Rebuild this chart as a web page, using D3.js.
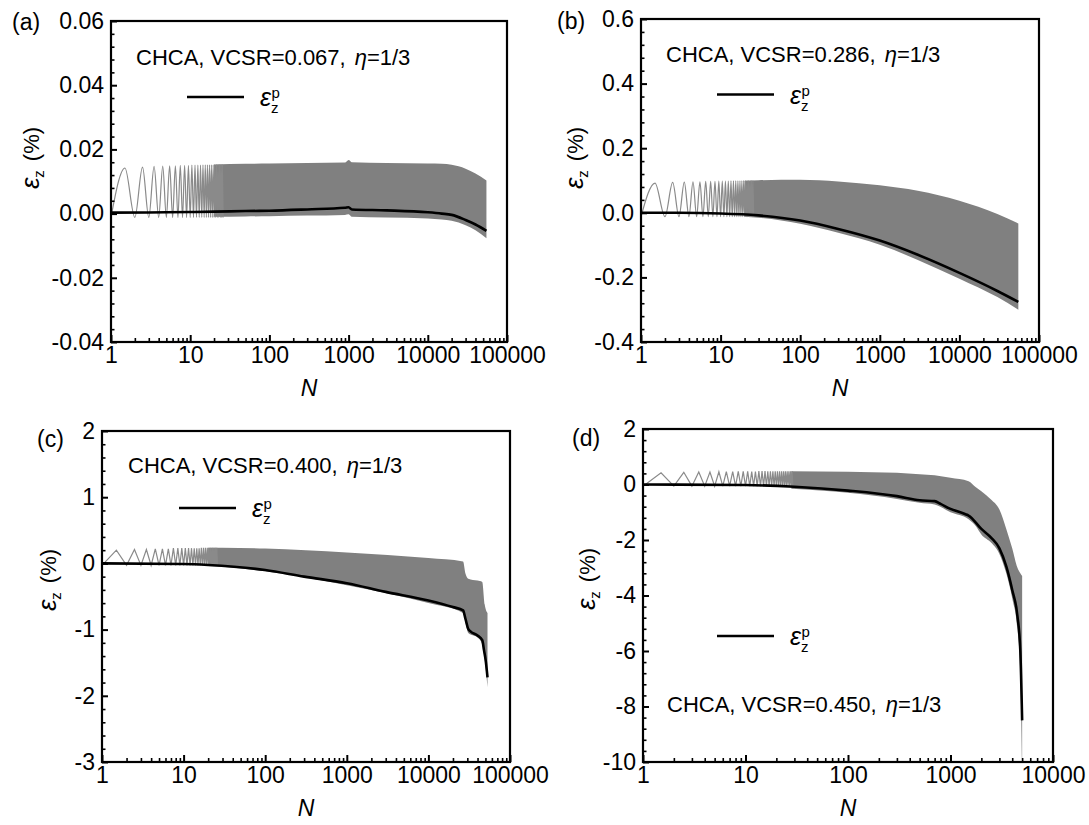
<!DOCTYPE html>
<html>
<head>
<meta charset="utf-8">
<script src="https://cdn.jsdelivr.net/npm/d3@7"></script>
<style>
  body { margin: 0; background: #fff; }
  svg text { font-family: "Liberation Sans", Arial, sans-serif; fill: #000; }
</style>
</head>
<body>
<svg id="chart" width="1089" height="825"></svg>
<script>
// ---- panel (a) VCSR=0.067 ----
var nBandA = [20, 50, 100, 300, 900, 1000, 1100, 3000, 10000, 15000, 20000, 30000, 40000, 55000];
var upperA = [0.0153, 0.0155, 0.0156, 0.0158, 0.0159, 0.0167, 0.0160, 0.0158, 0.0156, 0.0155, 0.0152, 0.0140, 0.0125, 0.0103];
var lowerA = [-0.0010, -0.0009, -0.0008, -0.0006, -0.0004, -0.0002, -0.0010, -0.0012, -0.0015, -0.0018, -0.0022, -0.0036, -0.0052, -0.0077];
var nPlA = [1, 5, 10, 20, 50, 100, 300, 900, 1000, 1100, 3000, 10000, 15000, 20000, 30000, 40000, 55000];
var plA = [0.0003, 0.0004, 0.0005, 0.0006, 0.0008, 0.0009, 0.0013, 0.0018, 0.0020, 0.0013, 0.0010, 0.0004, 0.0000, -0.0004, -0.0020, -0.0034, -0.0054];
var peaksA = [0.0142, 0.0145, 0.0147, 0.0148, 0.0149, 0.0149, 0.0150, 0.0150, 0.0150, 0.0151, 0.0151, 0.0151, 0.0151, 0.0152, 0.0152, 0.0152, 0.0152, 0.0152, 0.0152, 0.0153, 0.0153, 0.0153, 0.0153, 0.0153, 0.0153];
var troughA = -0.0012;
var yTicksA = [-0.04, -0.02, 0, 0.02, 0.04, 0.06];

// ---- panel (b) VCSR=0.286 ----
var nBandB = [20, 30, 100, 300, 1000, 3000, 10000, 30000, 55000];
var upperB = [0.099, 0.101, 0.102, 0.097, 0.085, 0.068, 0.037, -0.004, -0.033];
var lowerB = [-0.012, -0.015, -0.034, -0.062, -0.099, -0.146, -0.204, -0.261, -0.300];
var nPlB = [1, 3, 10, 30, 100, 300, 1000, 3000, 10000, 30000, 55000];
var plB = [0, 0, -0.002, -0.008, -0.024, -0.050, -0.086, -0.130, -0.186, -0.242, -0.276];
var peaksB = [0.092, 0.094, 0.095, 0.096, 0.096, 0.097, 0.097, 0.097, 0.098, 0.098, 0.098, 0.098, 0.099, 0.099, 0.099, 0.099, 0.099, 0.099, 0.100, 0.100, 0.100, 0.100, 0.100, 0.100, 0.100];
var troughB = -0.012;
var yTicksB = [-0.4, -0.2, 0, 0.2, 0.4, 0.6];

// ---- panel (c) VCSR=0.400 ----
var nBandC = [20, 30, 100, 1000, 10000, 26600, 28500, 30800, 40000, 45700, 49000, 53000];
var upperC = [0.235, 0.237, 0.226, 0.166, 0.080, 0.030, -0.156, -0.230, -0.260, -0.280, -0.620, -0.750];
var lowerC = [-0.04, -0.05, -0.12, -0.33, -0.60, -0.75, -0.90, -1.05, -1.12, -1.22, -1.45, -1.87];
var nPlC = [1, 10, 20, 100, 300, 1000, 3000, 10000, 20000, 26600, 28500, 30800, 33000, 40000, 45700, 48000, 50300, 53000];
var plC = [0, -0.01, -0.025, -0.10, -0.20, -0.30, -0.43, -0.56, -0.66, -0.71, -0.84, -0.99, -1.03, -1.09, -1.16, -1.31, -1.46, -1.72];
var peaksC = [0.20, 0.21, 0.21, 0.22, 0.22, 0.22, 0.23, 0.23, 0.23, 0.23, 0.23, 0.23, 0.23, 0.23, 0.23, 0.235, 0.235, 0.235, 0.235, 0.235, 0.235, 0.235, 0.235, 0.235, 0.235];
var troughC = -0.03;
var yTicksC = [-3, -2, -1, 0, 1, 2];

// ---- panel (d) VCSR=0.450 ----
var nBandD = [28, 100, 300, 500, 700, 1000, 1500, 1770, 2000, 2500, 3000, 3500, 4000, 4500, 4800, 5000];
var upperD = [0.48, 0.46, 0.42, 0.37, 0.33, 0.24, 0.12, -0.10, -0.24, -0.55, -0.90, -1.60, -2.30, -3.00, -3.20, -3.30];
var lowerD = [-0.15, -0.30, -0.52, -0.66, -0.72, -1.00, -1.25, -1.50, -1.80, -2.10, -2.50, -3.20, -4.10, -5.20, -6.80, -10.5];
var nPlD = [1, 10, 30, 100, 300, 500, 700, 800, 1000, 1400, 1500, 2000, 2500, 3000, 3500, 4000, 4500, 4800, 5000];
var plD = [0, -0.02, -0.08, -0.22, -0.42, -0.57, -0.60, -0.70, -0.88, -1.07, -1.12, -1.60, -1.92, -2.30, -2.95, -3.80, -4.75, -6.00, -8.50];
var peaksD = [0.42, 0.44, 0.45, 0.45, 0.46, 0.46, 0.46, 0.47, 0.47, 0.47, 0.47, 0.47, 0.48, 0.48, 0.48, 0.48, 0.48, 0.48, 0.48, 0.48, 0.48, 0.48, 0.48, 0.48, 0.48, 0.48, 0.48, 0.48];
var troughD = -0.06;
var yTicksD = [-10, -8, -6, -4, -2, 0, 2];

var svg = d3.select('#chart');
var fontStack = '"Liberation Sans", Arial, sans-serif';

function fixMinus(s) { return s.replace('\u2212', '-'); }

function drawPanel(p) {
  var x = d3.scaleLog().domain(p.xDomain).range([p.left, p.right]);
  var y = d3.scaleLinear().domain(p.yDomain).range([p.bottom, p.top]);
  var g = svg.append('g');

  g.append('clipPath').attr('id', 'clip-' + p.id)
    .append('rect')
      .attr('x', p.left).attr('y', p.top)
      .attr('width', p.right - p.left).attr('height', p.bottom - p.top);

  var plot = g.append('g').attr('clip-path', 'url(#clip-' + p.id + ')');

  // dense part of the cyclic strain: filled between envelopes
  var band = p.nBand.map(function(n, i) { return { n: n, hi: p.upper[i], lo: p.lower[i] }; });
  plot.append('path')
    .datum(band)
    .attr('fill', '#808080')
    .attr('d', d3.area()
      .curve(d3.curveMonotoneX)
      .x(function(d) { return x(d.n); })
      .y0(function(d) { return y(d.lo); })
      .y1(function(d) { return y(d.hi); }));

  // early single cycles
  var cyc = [];
  p.peaks.forEach(function(pk, i) {
    cyc.push([i + 1, p.trough]);
    cyc.push([i + 1.5, pk]);
  });
  cyc.push([p.peaks.length + 1, p.trough]);
  plot.append('path')
    .datum(cyc)
    .attr('fill', 'none')
    .attr('stroke', '#8a8a8a')
    .attr('stroke-width', 1.2)
    .attr('d', d3.line()
      .curve(p.sharp ? d3.curveLinear : d3.curveMonotoneX)
      .x(function(d) { return x(d[0]); })
      .y(function(d) { return y(d[1]); }));

  // plastic strain
  plot.append('path')
    .datum(p.nPl.map(function(n, i) { return [n, p.pl[i]]; }))
    .attr('fill', 'none')
    .attr('stroke', '#000')
    .attr('stroke-width', 2.6)
    .attr('d', d3.line()
      .curve(d3.curveMonotoneX)
      .x(function(d) { return x(d[0]); })
      .y(function(d) { return y(d[1]); }));

  // y axis (ticks point inward)
  var fmt = d3.format(p.yFormat);
  var yMinor = [];
  for (var i = 0; i < p.yTicks.length - 1; i++) {
    var step = (p.yTicks[i + 1] - p.yTicks[i]) / 5;
    for (var k = 1; k < 5; k++) yMinor.push(p.yTicks[i] + k * step);
  }
  g.append('g')
    .attr('transform', 'translate(' + p.left + ',0)')
    .call(d3.axisLeft(y).tickValues(yMinor).tickSizeInner(-3.5).tickSizeOuter(0).tickFormat(''))
    .call(function(s) { s.select('.domain').remove(); s.selectAll('line').attr('stroke-width', 1.6); });
  g.append('g')
    .attr('transform', 'translate(' + p.left + ',0)')
    .call(d3.axisLeft(y).tickValues(p.yTicks).tickSizeInner(-6).tickSizeOuter(0).tickPadding(7)
      .tickFormat(function(d) { return fixMinus(fmt(d)); }))
    .call(function(s) {
      s.select('.domain').remove();
      s.selectAll('line').attr('stroke-width', 2);
      s.selectAll('text').attr('font-size', 23).attr('font-family', fontStack);
    });

  // x axis, log decades
  var decades = [], xMinor = [];
  for (var dd = p.xDomain[0]; dd <= p.xDomain[1]; dd *= 10) {
    decades.push(dd);
    for (var m = 2; m < 10; m++) if (dd * m < p.xDomain[1]) xMinor.push(dd * m);
  }
  g.append('g')
    .attr('transform', 'translate(0,' + p.bottom + ')')
    .call(d3.axisBottom(x).tickValues(xMinor).tickSizeInner(-4).tickSizeOuter(0).tickFormat(''))
    .call(function(s) { s.select('.domain').remove(); s.selectAll('line').attr('stroke-width', 1.6); });
  g.append('g')
    .attr('transform', 'translate(0,' + p.bottom + ')')
    .call(d3.axisBottom(x).tickValues(decades).tickSizeInner(-7).tickSizeOuter(0).tickPadding(5)
      .tickFormat(d3.format('d')))
    .call(function(s) {
      s.select('.domain').remove();
      s.selectAll('line').attr('stroke-width', 2);
      s.selectAll('text').attr('font-size', 23).attr('font-family', fontStack);
    });

  // frame
  g.append('rect')
    .attr('x', p.left).attr('y', p.top)
    .attr('width', p.right - p.left).attr('height', p.bottom - p.top)
    .attr('fill', 'none').attr('stroke', '#000').attr('stroke-width', 2.2);

  // axis titles
  g.append('text')
    .attr('x', (p.left + p.right) / 2).attr('y', p.bottom + 54)
    .attr('text-anchor', 'middle').attr('font-size', 23).attr('font-style', 'italic')
    .text('N');

  var yt = g.append('text')
    .attr('transform', 'translate(' + p.yTitleX + ',' + p.yTitleY + ') rotate(-90)')
    .attr('text-anchor', 'middle');
  yt.append('tspan').attr('font-size', 26).attr('font-style', 'italic').text('\u03b5');
  yt.append('tspan').attr('font-size', 15).attr('dy', 5).text('z');
  yt.append('tspan').attr('font-size', 22).attr('dx', 9).attr('dy', -5).text('(%)');

  // panel letter
  g.append('text').attr('x', p.labelX).attr('y', p.labelY).attr('font-size', 23).text(p.label);

  // annotation
  var ann = g.append('text').attr('x', p.annX).attr('y', p.annY).attr('font-size', 22);
  ann.append('tspan').text(p.annText + ',');
  ann.append('tspan').attr('dx', 9).attr('font-style', 'italic').text('\u03b7');
  ann.append('tspan').text('=1/3');

  // legend
  g.append('line')
    .attr('x1', p.legX).attr('x2', p.legX + 57)
    .attr('y1', p.legY).attr('y2', p.legY)
    .attr('stroke', '#000').attr('stroke-width', 2.6);
  var lt = g.append('text').attr('x', p.legX + 73).attr('y', p.legY + 9);
  lt.append('tspan').attr('font-size', 25).attr('font-style', 'italic').text('\u03b5');
  lt.append('tspan').attr('font-size', 15).attr('dy', 7).text('z');
  lt.append('tspan').attr('font-size', 15).attr('dx', -7).attr('dy', -15).text('p');
}

drawPanel({
  id: 'a', label: '(a)', labelX: 12, labelY: 30,
  left: 111, right: 507, top: 21, bottom: 342,
  xDomain: [1, 100000], yDomain: [-0.04, 0.06], yTicks: yTicksA, yFormat: '.2f',
  nBand: nBandA, upper: upperA, lower: lowerA, nPl: nPlA, pl: plA, peaks: peaksA, trough: troughA,
  sharp: false, yTitleX: 39, yTitleY: 158,
  annText: 'CHCA, VCSR=0.067', annX: 136, annY: 65,
  legX: 187, legY: 97
});
drawPanel({
  id: 'b', label: '(b)', labelX: 557, labelY: 29,
  left: 641, right: 1039, top: 19, bottom: 342,
  xDomain: [1, 100000], yDomain: [-0.4, 0.6], yTicks: yTicksB, yFormat: '.1f',
  nBand: nBandB, upper: upperB, lower: lowerB, nPl: nPlB, pl: plB, peaks: peaksB, trough: troughB,
  sharp: false, yTitleX: 583, yTitleY: 158,
  annText: 'CHCA, VCSR=0.286', annX: 666, annY: 62,
  legX: 717, legY: 94.5
});
drawPanel({
  id: 'c', label: '(c)', labelX: 37, labelY: 447,
  left: 102, right: 510, top: 431, bottom: 762,
  xDomain: [1, 100000], yDomain: [-3, 2], yTicks: yTicksC, yFormat: 'd',
  nBand: nBandC, upper: upperC, lower: lowerC, nPl: nPlC, pl: plC, peaks: peaksC, trough: troughC,
  sharp: true, yTitleX: 56, yTitleY: 580,
  annText: 'CHCA, VCSR=0.400', annX: 128, annY: 473,
  legX: 179, legY: 508
});
drawPanel({
  id: 'd', label: '(d)', labelX: 572, labelY: 446,
  left: 643, right: 1053, top: 429, bottom: 762,
  xDomain: [1, 10000], yDomain: [-10, 2], yTicks: yTicksD, yFormat: 'd',
  nBand: nBandD, upper: upperD, lower: lowerD, nPl: nPlD, pl: plD, peaks: peaksD, trough: troughD,
  sharp: true, yTitleX: 595, yTitleY: 579,
  annText: 'CHCA, VCSR=0.450', annX: 667, annY: 712,
  legX: 717, legY: 636
});
</script>
</body>
</html>
